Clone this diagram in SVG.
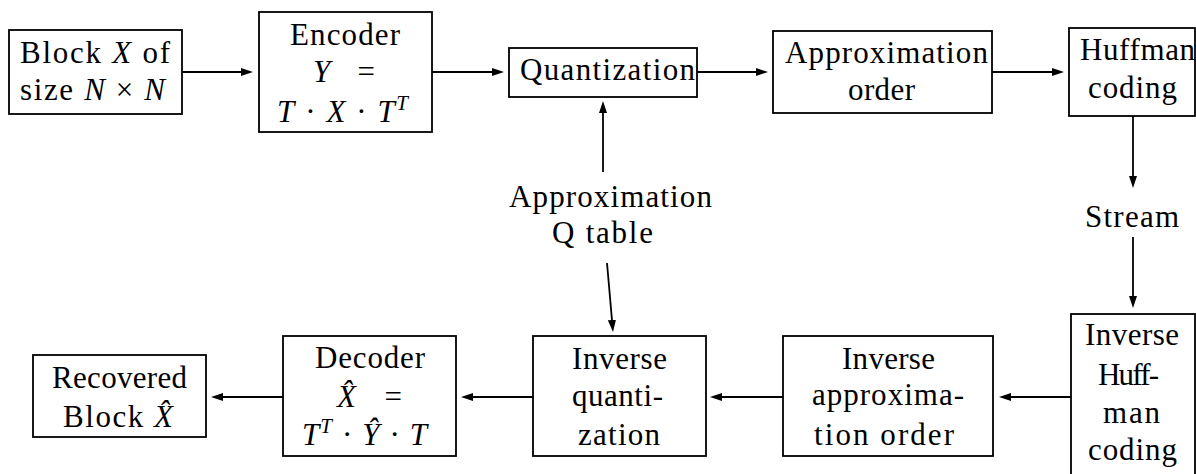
<svg xmlns="http://www.w3.org/2000/svg" width="1196" height="474" viewBox="0 0 1196 474" font-family="Liberation Serif, serif" font-size="31">
<style>
.box{fill:#fff;stroke:#000;stroke-width:1.8}
.i{font-style:italic}
.c line{stroke:#000;stroke-width:1.8;marker-end:url(#ah)}
</style>
<defs>
<marker id="ah" viewBox="0 0 12 8" refX="6" refY="4" markerWidth="12" markerHeight="8" markerUnits="userSpaceOnUse" orient="auto">
<path d="M0,0 L12,4 L0,8 Z" fill="#000"/>
</marker>
</defs>
<g class="c" id="connectors">
<line x1="182" y1="72" x2="247" y2="72"/>
<line x1="432" y1="72" x2="498" y2="72"/>
<line x1="697" y1="72" x2="762" y2="72"/>
<line x1="992" y1="72" x2="1058" y2="72"/>
<line x1="1133" y1="116" x2="1133" y2="182"/>
<line x1="1133" y1="237" x2="1133" y2="302"/>
<line x1="1071" y1="397" x2="1005" y2="397"/>
<line x1="783" y1="397" x2="716" y2="397"/>
<line x1="533" y1="397" x2="467" y2="397"/>
<line x1="283" y1="397" x2="217" y2="397"/>
<line x1="603" y1="172" x2="603" y2="107"/>
<line x1="607" y1="263" x2="612.5" y2="326"/>
</g>
<g id="block">
<rect class="box" x="9" y="30" width="173" height="84"/>
<text x="20" y="63" textLength="150">Block <tspan class="i">X</tspan> of</text>
<text x="20" y="100" textLength="145">size <tspan class="i">N</tspan> × <tspan class="i">N</tspan></text>
</g>
<g id="encoder">
<rect class="box" x="259" y="12" width="173" height="120"/>
<text x="290" y="45" textLength="110">Encoder</text>
<text x="313" y="82" textLength="62"><tspan class="i">Y</tspan>  =</text>
<text x="277" y="122" textLength="131"><tspan class="i">T</tspan> · <tspan class="i">X</tspan> · <tspan class="i">T</tspan><tspan class="i" font-size="21" dy="-12">T</tspan></text>
</g>
<g id="quantization">
<rect class="box" x="509" y="48" width="188" height="49"/>
<text x="520" y="80" textLength="175">Quantization</text>
</g>
<g id="approx-order">
<rect class="box" x="773" y="31" width="219" height="82"/>
<text x="785" y="63" textLength="203">Approximation</text>
<text x="848" y="100" textLength="67">order</text>
</g>
<g id="huffman">
<rect class="box" x="1069" y="28" width="126" height="88"/>
<text x="1080" y="60" textLength="115">Huffman</text>
<text x="1088" y="98" textLength="89">coding</text>
</g>
<g id="stream">
<text x="1085" y="227" textLength="94">Stream</text>
</g>
<g id="qtable">
<text x="509" y="207" textLength="203">Approximation</text>
<text x="552" y="243" textLength="101">Q table</text>
</g>
<g id="inv-huffman">
<rect class="box" x="1071" y="314" width="124" height="170"/>
<text x="1085" y="345" textLength="94">Inverse</text>
<text x="1098" y="385" textLength="61">Huff-</text>
<text x="1103" y="423" textLength="57">man</text>
<text x="1088" y="460" textLength="89">coding</text>
</g>
<g id="inv-approx">
<rect class="box" x="783" y="336" width="210" height="120"/>
<text x="842" y="369" textLength="93">Inverse</text>
<text x="812" y="405" textLength="152">approxima-</text>
<text x="814" y="445" textLength="140">tion order</text>
</g>
<g id="inv-quant">
<rect class="box" x="533" y="336" width="173" height="120"/>
<text x="572" y="369" textLength="95">Inverse</text>
<text x="572" y="406" textLength="91">quanti-</text>
<text x="578" y="445" textLength="82">zation</text>
</g>
<g id="decoder">
<rect class="box" x="283" y="336" width="173" height="120"/>
<text x="315" y="368" textLength="110">Decoder</text>
<text x="337" y="407" textLength="65"><tspan class="i">X̂</tspan>  =</text>
<text x="302" y="445" textLength="125"><tspan class="i">T</tspan><tspan class="i" font-size="21" dy="-12">T</tspan><tspan dy="12"> · </tspan><tspan class="i">Ŷ</tspan> · <tspan class="i">T</tspan></text>
</g>
<g id="recovered">
<rect class="box" x="33" y="355" width="173" height="82"/>
<text x="52" y="388" textLength="135">Recovered</text>
<text x="63" y="427" textLength="110">Block <tspan class="i">X̂</tspan></text>
</g>
</svg>
